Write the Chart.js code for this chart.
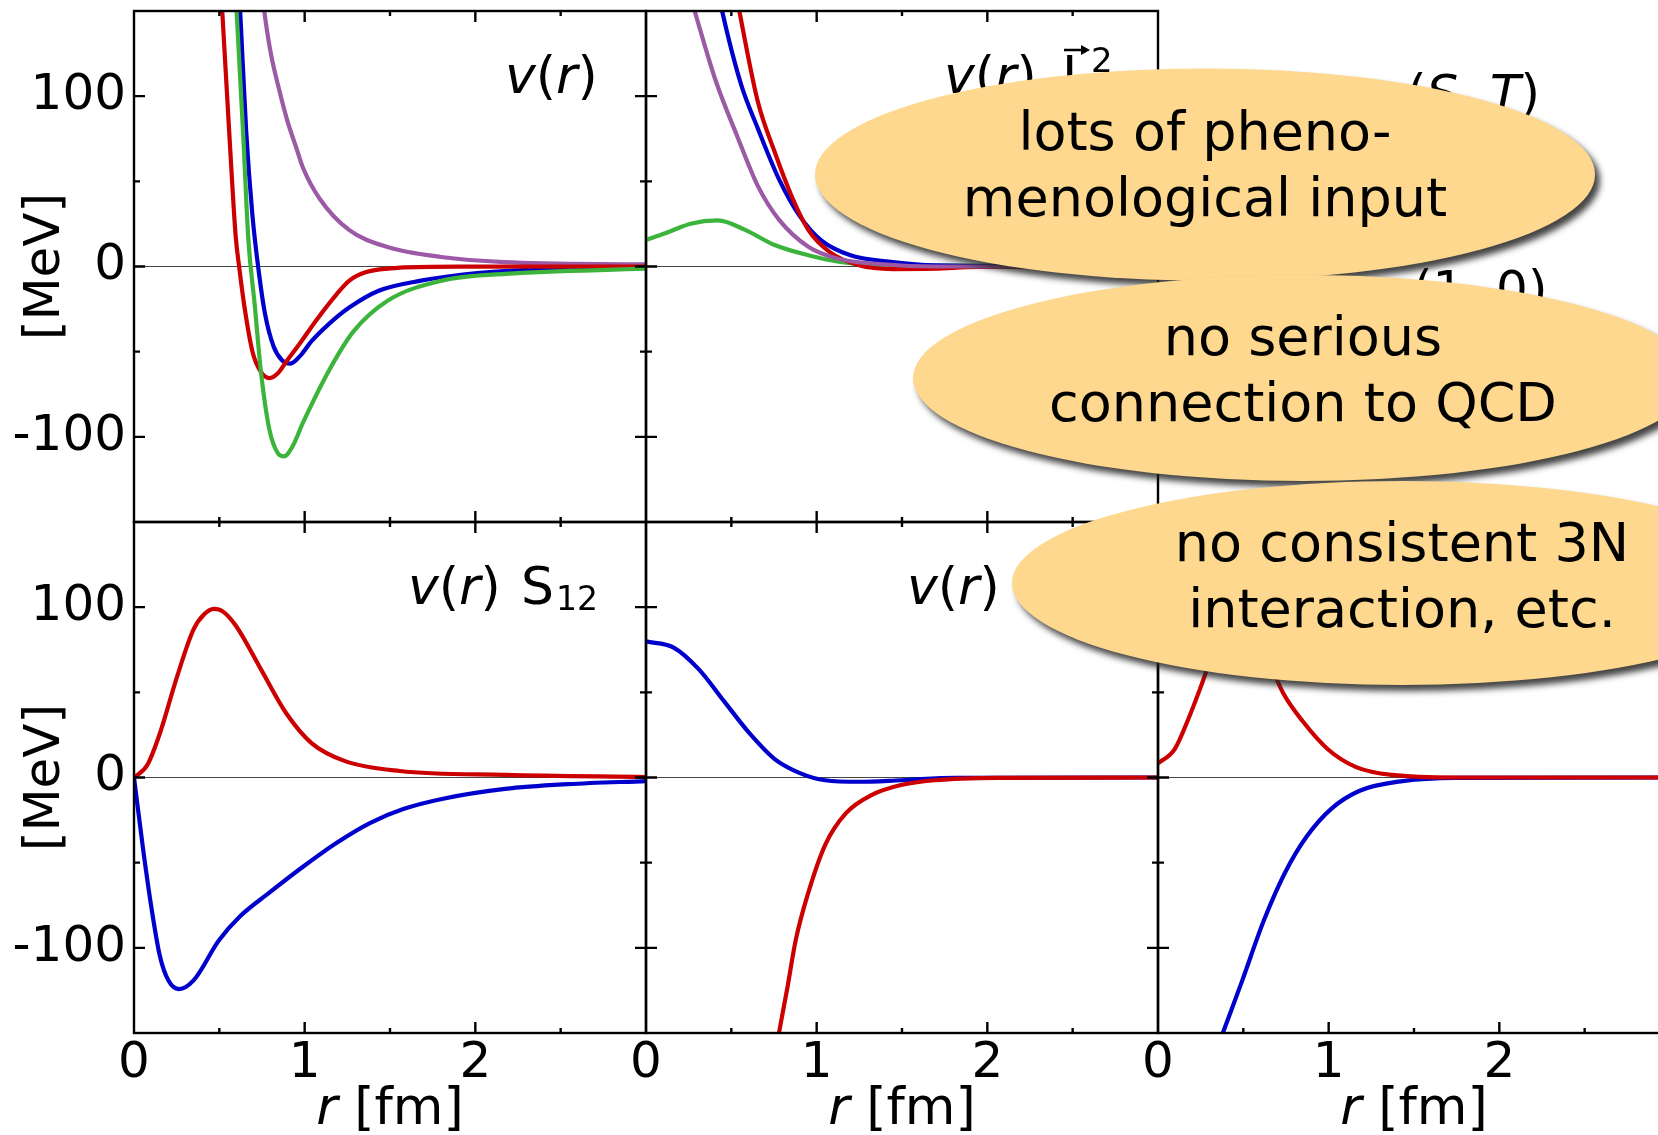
<!DOCTYPE html>
<html><head><meta charset="utf-8">
<script src="https://cdn.jsdelivr.net/npm/chart.js@4.4.1/dist/chart.umd.min.js"></script>
<style>
html,body{margin:0;padding:0;background:#fff;overflow:hidden;width:1658px;height:1135px}
#wrap{position:relative;width:1658px;height:1135px;overflow:hidden;background:#fff}
canvas{position:absolute;left:0;top:0}
</style></head><body><div id="wrap"></div>
<script>
// ---------------- data ----------------
const X_TICK_LABELS = ['0', '1', '2'];
const Y_TICK_LABELS = ['-100', '0', '100'];

// top-left: v(r)
const TL_PURPLE_R = [0.73, 0.763, 0.80, 0.85, 0.90, 0.95, 0.99, 1.09, 1.26, 1.48, 1.80, 2.17, 3.0];
const TL_PURPLE_V = [178, 150, 126, 104, 85, 70, 58, 39.5, 21.5, 11.6, 5.6, 2.6, 1.2];
const TL_RED_R = [0.49, 0.517, 0.559, 0.596, 0.616, 0.645, 0.695, 0.744, 0.793, 0.84, 0.892, 0.98, 1.064, 1.188, 1.262, 1.361, 1.557, 1.93, 3.0];
const TL_RED_V = [200, 150, 77, 17.5, 0, -22.2, -50.3, -61.9, -65.5, -63, -55.9, -44, -32.1, -16.2, -8.3, -3.3, -0.7, -0.1, 0];
const TL_BLUE_R = [0.60, 0.622, 0.657, 0.694, 0.731, 0.768, 0.818, 0.867, 0.916, 0.978, 1.039, 1.138, 1.261, 1.434, 1.681, 1.928, 2.297, 3.0];
const TL_BLUE_V = [190, 150, 80, 30, -3, -28, -47, -55, -57, -52, -44, -34.1, -24.1, -14.2, -8.3, -4.7, -1.9, -0.4];
const TL_GREEN_R = [0.58, 0.601, 0.640, 0.670, 0.707, 0.744, 0.793, 0.842, 0.879, 0.929, 0.990, 1.138, 1.286, 1.484, 1.804, 2.174, 3.0];
const TL_GREEN_V = [186, 150, 77, 16, -22.2, -61.9, -95.6, -109.5, -111.5, -105.6, -91.7, -61.9, -38.1, -20.2, -8.3, -4.3, -1.3];

// top-middle: v(r) L^2
const TM_RED_R = [0.51, 0.547, 0.655, 0.754, 0.853, 0.951, 1.075, 1.248, 1.445, 1.692, 1.937, 3.0];
const TM_RED_V = [170, 150, 96.9, 67.2, 41.4, 21.5, 8.6, 0.7, -1.5, -1.3, -0.3, 0];
const TM_BLUE_R = [0.41, 0.446, 0.557, 0.655, 0.779, 0.902, 1.025, 1.198, 1.445, 1.691, 3.0];
const TM_BLUE_V = [168, 150, 106.9, 81.1, 51.3, 29.4, 15.5, 6.6, 2.6, 0.7, 0];
const TM_PURPLE_R = [0.25, 0.285, 0.409, 0.532, 0.655, 0.779, 0.951, 1.124, 1.346, 1.691, 3.0];
const TM_PURPLE_V = [162, 150, 108.9, 77.1, 47.3, 27.5, 11.6, 4.6, 1.6, 0, 0];
const TM_GREEN_R = [0, 0.113, 0.261, 0.421, 0.581, 0.754, 0.951, 1.148, 1.444, 3.0];
const TM_GREEN_V = [15.6, 19.5, 25.1, 27.1, 21.5, 12.6, 6.6, 2.6, 0.7, 0];

// bottom-left: v(r) S12
const BL_RED_R = [0, 0.078, 0.152, 0.251, 0.349, 0.411, 0.468, 0.522, 0.596, 0.744, 0.892, 1.040, 1.237, 1.557, 2.174, 3.0];
const BL_RED_V = [0, 7.3, 26.0, 58.8, 86.9, 95.8, 99.0, 97.4, 89.2, 63.5, 37.7, 20.2, 9.6, 3.8, 1.5, 0.3];
const BL_BLUE_R = [0, 0.053, 0.103, 0.152, 0.201, 0.263, 0.349, 0.497, 0.620, 0.793, 0.990, 1.188, 1.385, 1.582, 1.804, 2.174, 2.544, 3.0];
const BL_BLUE_V = [0, -41.8, -77.0, -105.0, -119.1, -124.2, -119.1, -95.7, -81.6, -67.6, -52.4, -38.3, -26.6, -18.4, -12.6, -6.7, -3.9, -2.1];

// bottom-middle: v(r) ...
const BM_BLUE_R = [0, 0.162, 0.310, 0.458, 0.606, 0.754, 0.902, 1.050, 1.247, 1.494, 1.814, 3.0];
const BM_BLUE_V = [79.9, 76.3, 63.5, 44.7, 26.0, 10.8, 2.6, -1.6, -2.5, -1.6, -0.2, 0];
const BM_RED_R = [0.74, 0.779, 0.828, 0.877, 0.951, 1.050, 1.173, 1.321, 1.494, 1.691, 2.061, 3.0];
const BM_RED_V = [-172, -150, -123.7, -95.6, -67.6, -39.5, -20.8, -10.3, -4.4, -1.6, -0.2, 0];

// bottom-right
const BR_RED_R = [0, 0.098, 0.182, 0.254, 0.33, 0.42, 0.50, 0.58, 0.66, 0.734, 0.848, 0.995, 1.161, 1.370, 1.75, 3.0];
const BR_RED_V = [8.2, 16.7, 35.4, 54.1, 75, 90, 94, 84, 66, 49.4, 33.0, 16.6, 6.1, 1.5, 0, 0];
const BR_BLUE_R = [0.33, 0.380, 0.494, 0.620, 0.744, 0.870, 1.015, 1.182, 1.433, 1.75, 3.0];
const BR_BLUE_V = [-164, -150, -119.1, -84.0, -55.9, -34.8, -18.4, -7.8, -2.1, -0.2, 0];

const LEGEND_HEAD = ['(', 'S', ', ', 'T', ')'];
const LEGEND_ENTRY = '(1, 0)';
const BUBBLE_1 = ['lots of pheno-', 'menological input'];
const BUBBLE_2 = ['no serious', 'connection to QCD'];
const BUBBLE_3 = ['no consistent 3N', 'interaction, etc.'];

// ---------------- style / layout ----------------
const FAM = "'DejaVu Sans', 'Liberation Sans', sans-serif";
const RED = '#cc0000', BLUE = '#0000cc', GREEN = '#3cb43c', PURPLE = '#9b59a6';
const W = 1700, H = 1135;
const COLS = [134, 646, 1158], PW = 512;
const ROWS = [11, 522], PH = 511;
const X_MAJOR = [1, 2], X_MINOR = [0.5, 1.5, 2.5];
const Y_MAJOR = [-100, 0, 100], Y_MINOR = [-50, 50];

const wrap = document.getElementById('wrap');
const mk = (R, V) => R.map((r, i) => ({x: r, y: V[i]}));
const IT = s => `italic ${s}px ${FAM}`;
const N = s => `${s}px ${FAM}`;

function drawRuns(ctx, x, y, runs) {
  ctx.textAlign = 'left'; ctx.textBaseline = 'alphabetic'; ctx.fillStyle = '#000';
  for (const r of runs) {
    ctx.font = r.f;
    ctx.fillText(r.t, x, y + (r.dy || 0));
    x += ctx.measureText(r.t).width;
  }
  return x;
}
function runsWidth(ctx, runs) {
  let w = 0;
  for (const r of runs) { ctx.font = r.f; w += ctx.measureText(r.t).width; }
  return w;
}
const VR = s => [{t: 'v', f: IT(s)}, {t: '(', f: N(s)}, {t: 'r', f: IT(s)}, {t: ')', f: N(s)}];

const framePlugin = {
  id: 'frame',
  afterDatasetsDraw(ch) {
    const {ctx, chartArea: a} = ch;
    const xs = ch.scales.x, ys = ch.scales.y;
    ctx.save();
    ctx.strokeStyle = '#000'; ctx.lineWidth = 2.4;
    ctx.strokeRect(a.left, a.top, a.right - a.left, a.bottom - a.top);
    ctx.beginPath();
    const seg = (x1, y1, x2, y2) => { ctx.moveTo(x1, y1); ctx.lineTo(x2, y2); };
    const xt = (v, L) => { const p = xs.getPixelForValue(v); seg(p, a.top, p, a.top + L); seg(p, a.bottom, p, a.bottom - L); };
    const yt = (v, L) => { const p = ys.getPixelForValue(v); seg(a.left, p, a.left + L, p); seg(a.right, p, a.right - L, p); };
    X_MAJOR.forEach(v => xt(v, 11)); X_MINOR.forEach(v => xt(v, 5));
    Y_MAJOR.forEach(v => yt(v, 11)); Y_MINOR.forEach(v => yt(v, 6));
    ctx.stroke();
    ctx.restore();
  }
};

function drawOverlay(ctx) {
  ctx.save();
  ctx.fillStyle = '#000';
  [ROWS[0] + PH / 2, ROWS[1] + PH / 2].forEach(cy => {
    ctx.save(); ctx.translate(59, cy); ctx.rotate(-Math.PI / 2);
    ctx.font = N(50); ctx.textAlign = 'center'; ctx.textBaseline = 'alphabetic';
    ctx.fillText('[MeV]', 0, 0); ctx.restore();
  });
  COLS.forEach(cx0 => {
    const runs = [{t: 'r', f: IT(52)}, {t: ' [fm]', f: N(52)}];
    const w = runsWidth(ctx, runs);
    drawRuns(ctx, cx0 + PW / 2 - w / 2, 1124, runs);
  });
  // legend panel (mostly hidden by the bubbles)
  drawRuns(ctx, 1407, 110, LEGEND_HEAD.map(t => ({t, f: (t === 'S' || t === 'T') ? IT(50) : N(50)})));
  drawRuns(ctx, 1413, 306, [{t: LEGEND_ENTRY, f: N(50)}]);
  const bubbles = [
    {cx: 1205, cy: 174.5, rx: 390, ry: 106, lines: BUBBLE_1, base: [150, 216]},
    {cx: 1303, cy: 378, rx: 390, ry: 103, lines: BUBBLE_2, base: [355, 421]},
    {cx: 1402, cy: 583, rx: 390, ry: 102, lines: BUBBLE_3, base: [561, 627]}
  ];
  bubbles.forEach(b => {
    ctx.save();
    ctx.shadowColor = 'rgba(35,35,35,0.85)'; ctx.shadowBlur = 6;
    ctx.shadowOffsetX = 5; ctx.shadowOffsetY = 6;
    ctx.fillStyle = '#fdd88e';
    ctx.beginPath(); ctx.ellipse(b.cx, b.cy, b.rx, b.ry, 0, 0, Math.PI * 2); ctx.fill();
    ctx.restore();
    ctx.fillStyle = '#000'; ctx.font = N(54); ctx.textAlign = 'center'; ctx.textBaseline = 'alphabetic';
    b.lines.forEach((t, i) => ctx.fillText(t, b.cx, b.base[i]));
  });
  ctx.restore();
}

const panels = [
  {col: 0, row: 0,
   series: [{r: TL_GREEN_R, v: TL_GREEN_V, c: GREEN}, {r: TL_RED_R, v: TL_RED_V, c: RED},
            {r: TL_BLUE_R, v: TL_BLUE_V, c: BLUE}, {r: TL_PURPLE_R, v: TL_PURPLE_V, c: PURPLE}],
   title: ctx => drawRuns(ctx, 505, 93, VR(52))},
  {col: 1, row: 0,
   series: [{r: TM_PURPLE_R, v: TM_PURPLE_V, c: PURPLE}, {r: TM_RED_R, v: TM_RED_V, c: RED},
            {r: TM_BLUE_R, v: TM_BLUE_V, c: BLUE}, {r: TM_GREEN_R, v: TM_GREEN_V, c: GREEN}],
   title: ctx => {
     drawRuns(ctx, 944, 93, VR(52));
     drawRuns(ctx, 1062, 93, [{t: 'L', f: N(52)}]);
     drawRuns(ctx, 1091, 72, [{t: '2', f: N(34)}]);
     ctx.save(); ctx.strokeStyle = '#000'; ctx.fillStyle = '#000'; ctx.lineWidth = 2.5;
     ctx.beginPath(); ctx.moveTo(1064, 50); ctx.lineTo(1084, 50); ctx.stroke();
     ctx.beginPath(); ctx.moveTo(1090, 50); ctx.lineTo(1081, 45); ctx.lineTo(1081, 55); ctx.closePath(); ctx.fill();
     ctx.restore();
   }},
  {col: 0, row: 1,
   series: [{r: BL_RED_R, v: BL_RED_V, c: RED}, {r: BL_BLUE_R, v: BL_BLUE_V, c: BLUE}],
   title: ctx => {
     drawRuns(ctx, 408, 604, VR(52));
     drawRuns(ctx, 521, 604, [{t: 'S', f: N(52)}]);
     drawRuns(ctx, 556, 610, [{t: '12', f: N(33)}]);
   }},
  {col: 1, row: 1,
   series: [{r: BM_RED_R, v: BM_RED_V, c: RED}, {r: BM_BLUE_R, v: BM_BLUE_V, c: BLUE}],
   title: ctx => drawRuns(ctx, 907, 604, VR(52))},
  {col: 2, row: 1,
   series: [{r: BR_RED_R, v: BR_RED_V, c: RED}, {r: BR_BLUE_R, v: BR_BLUE_V, c: BLUE}],
   title: ctx => {}}
];

const tickFont = {family: FAM, size: 50};

panels.forEach((p, idx) => {
  const cv = document.createElement('canvas');
  cv.width = W; cv.height = H; cv.style.width = W + 'px'; cv.style.height = H + 'px';
  wrap.appendChild(cv);
  const left = COLS[p.col], top = ROWS[p.row];
  const yW = p.col === 0 ? left : 0;
  const xH = p.row === 1 ? (H - top - PH) : 0;
  const isLast = idx === panels.length - 1;
  const fitX = s => { s.height = xH; s.paddingLeft = 0; s.paddingRight = 0; s.paddingTop = 0; s.paddingBottom = 0; };
  const fitY = s => { s.width = yW; s.paddingLeft = 0; s.paddingRight = 0; s.paddingTop = 0; s.paddingBottom = 0; };
  new Chart(cv.getContext('2d'), {
    type: 'line',
    data: {datasets: p.series.map(s => ({
      data: mk(s.r, s.v), borderColor: s.c, backgroundColor: s.c, borderWidth: 4.2,
      pointRadius: 0, pointHoverRadius: 0, fill: false, cubicInterpolationMode: 'monotone', clip: 0
    }))},
    options: {
      responsive: false, maintainAspectRatio: false, devicePixelRatio: 1, animation: false, events: [],
      layout: {padding: {left: left - yW, top: top, right: W - left - PW, bottom: H - top - PH - xH}},
      plugins: {legend: {display: false}, tooltip: {enabled: false}, title: {display: false}},
      scales: {
        x: {type: 'linear', position: 'bottom', min: 0, max: 3, afterFit: fitX,
            grid: {display: false, drawTicks: false}, border: {display: false},
            ticks: {display: p.row === 1, stepSize: 1, autoSkip: false, maxRotation: 0, minRotation: 0,
                    padding: 1, color: '#000', font: tickFont,
                    callback: v => X_TICK_LABELS.includes(String(v)) ? String(v) : ''}},
        y: {type: 'linear', position: 'left', min: -150, max: 150, afterFit: fitY,
            grid: {display: true, drawTicks: false, lineWidth: 1,
                   color: c => (c.tick && c.tick.value === 0) ? '#444' : 'rgba(0,0,0,0)'},
            border: {display: false},
            ticks: {display: p.col === 0, stepSize: 50, autoSkip: false, padding: 8, color: '#000', font: tickFont,
                    callback: v => Y_TICK_LABELS.includes(String(v)) ? String(v) : ''}}
      }
    },
    plugins: [framePlugin, {id: 'txt' + idx, afterDraw(ch) { p.title(ch.ctx); if (isLast) drawOverlay(ch.ctx); }}]
  });
});
</script>
</body></html>
